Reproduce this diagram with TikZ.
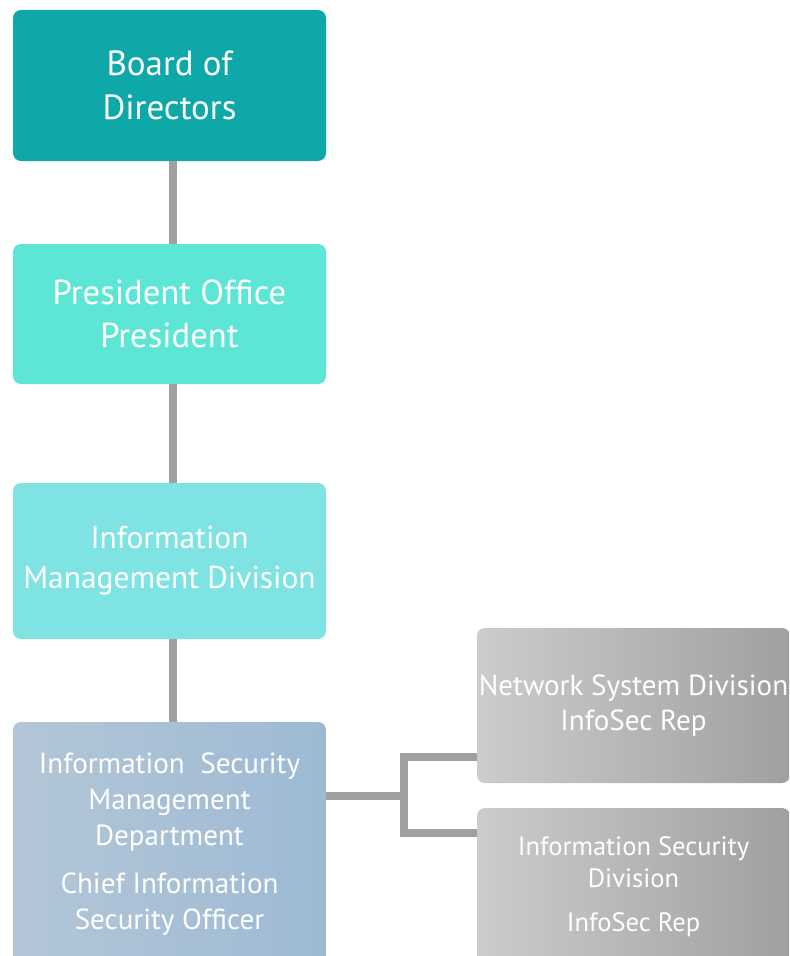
\documentclass[tikz,border=0pt]{standalone}
\usepackage{fontspec}
\setmainfont{PT Sans}
\usepackage{tikz}

\definecolor{boardteal}{RGB}{14,168,168}
\definecolor{presteal}{RGB}{93,230,213}
\definecolor{imdteal}{RGB}{128,227,227}
\definecolor{ismdleft}{RGB}{179,198,215}
\definecolor{ismdright}{RGB}{157,186,212}
\definecolor{repleft}{RGB}{204,204,204}
\definecolor{repright}{RGB}{160,160,160}
\definecolor{linkgray}{RGB}{160,160,160}

\begin{document}
\begin{tikzpicture}[x=0.75pt,y=-0.75pt,
    unit/.style={rectangle,rounded corners=6pt,text=white,align=center,
      minimum width=234.75pt,inner sep=0pt},
    link/.style={draw=linkgray,line width=6pt}]
    \clip (0,0) rectangle (789,956);
    \node[unit,fill=boardteal,minimum height=113.25pt,
      font=\fontsize{26.2}{33}\selectfont] (board) at (169.5,85.5)
      {Board of\\Directors};
    \node[unit,fill=presteal,minimum height=105pt,
      font=\fontsize{26}{32.5}\selectfont] (pres) at (169.5,314)
      {President Office\\President};
    \node[unit,fill=imdteal,minimum height=117pt,
      font=\fontsize{23.6}{30}\selectfont] (imd) at (169.5,561)
      {Information\\Management Division};
    \node[unit,left color=ismdleft,right color=ismdright,minimum height=183pt,
      font=\fontsize{21.8}{27}\selectfont] (ismd) at (169.5,844)
      {Information\ \ Security\\Management\\Department\\[9pt]Chief Information\\Security Officer};
    \node[unit,left color=repleft,right color=repright,minimum height=116.25pt,
      font=\fontsize{21.8}{26.25}\selectfont] (net) at (633.5,705.5)
      {Network System Division\\InfoSec Rep};
    \node[unit,left color=repleft,right color=repright,minimum height=118.5pt,
      font=\fontsize{19.9}{24}\selectfont] (isd) at (633.5,887)
      {Information Security\\Division\\[9pt]InfoSec Rep};
    %
    \coordinate (trunk) at (173,0);
    \coordinate (fork) at (404,796);
    \coordinate (forkA) at (404,757);
    \coordinate (forkB) at (404,833);
    \draw[link] (board.south -| trunk) -- (pres.north -| trunk);
    \draw[link] (pres.south -| trunk) -- (imd.north -| trunk);
    \draw[link] (imd.south -| trunk) -- (ismd.north -| trunk);
    \draw[link] (ismd.east |- fork) -- (fork);
    \draw[link] (net.west |- forkA) -- (forkA) -- (forkB) -- (isd.west |- forkB);
\end{tikzpicture}
\end{document}
